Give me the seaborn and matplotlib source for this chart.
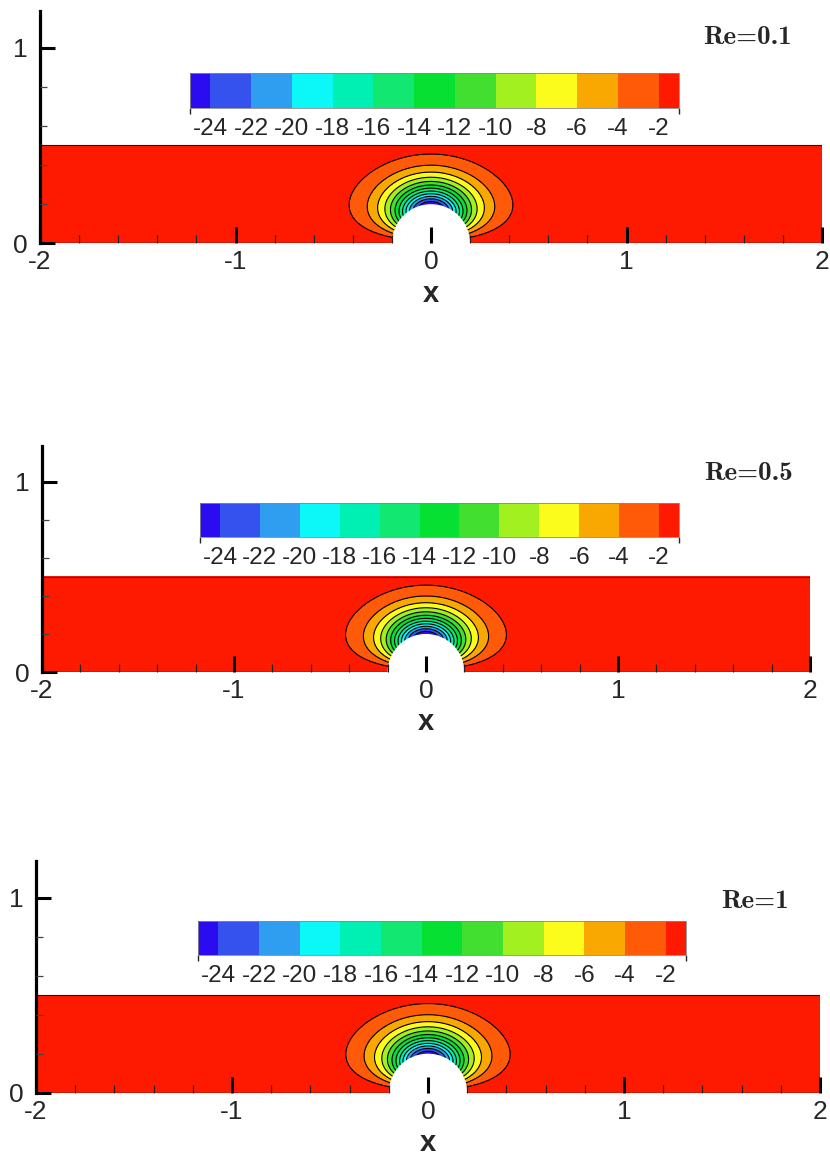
import numpy as np
import matplotlib
matplotlib.use("Agg")
import matplotlib.pyplot as plt
import seaborn as sns
from matplotlib.colors import ListedColormap, BoundaryNorm
from matplotlib.ticker import FixedLocator
import matplotlib.colorbar as mcolorbar
from matplotlib.patches import Circle

sns.set_theme(style="white")
plt.rcParams['font.family'] = ['Liberation Sans', 'DejaVu Sans']
plt.rcParams['axes.unicode_minus'] = False

# ---------------- data ----------------
re_labels = ["Re=0.1", "Re=0.5", "Re=1"]
level_ticks = [-24, -22, -20, -18, -16, -14, -12, -10, -8, -6, -4, -2]
level_bounds = [-25] + level_ticks + [-1]
level_colors = ["#2b0cf0", "#3552ee", "#2f9ef0", "#0cf8f8", "#00f0b4",
                "#12e772", "#05e032", "#42df30", "#a2f020", "#fcfc1c",
                "#f8a800", "#ff5a08", "#fe1a00"]
peak_value = [25.5, 25.5, 25.4]      # |min| at top of the cylinder
decay_len = [0.1225, 0.1225, 0.123]  # radial decay length above the cylinder
decay_pow = [1.266, 1.266, 1.266]    # radial decay exponent
side_stretch = [2.1, 2.1, 2.1]       # lateral stretch of contours
ang_power = [1.35, 1.35, 1.35]       # pinching of contours toward the base
R_CYL = 0.2
X_MIN, X_MAX = -2.0, 2.0
H_CHANNEL = 0.5
Y_TOP = 1.19
x_major = [-2, -1, 0, 1, 2]
x_minor = [round(v, 1) for v in np.arange(-1.8, 2.0, 0.2) if abs(v - round(v)) > 1e-6]
y_major = [0, 1]
y_minor = [0.2, 0.4, 0.6, 0.8]

# ---------------- layout (pixels) ----------------
W, H = 830, 1156
panels_px = [  # x(-2), x(2), y(0), y(1)
    (40, 822, 243.3, 47.7),
    (42, 810, 672.0, 481.7),
    (36, 820, 1092.7, 897.7),
]
cbar_px = [(190, 679, 73, 108), (200, 679, 503, 537), (198, 686, 921, 955)]
title_px = [(747, 37), (748, 474), (755, 901)]

fig = plt.figure(figsize=(W / 100, H / 100), dpi=100)

cmap = ListedColormap(sns.color_palette(level_colors))
fill_levels = [-1000] + level_ticks + [1000]

xg = np.linspace(X_MIN, X_MAX, 1601)
yg = np.linspace(0, H_CHANNEL, 401)
XX, YY = np.meshgrid(xg, yg)


def field(X, Y, peak, p, k, alpha, m):
    r = np.hypot(X, Y) + 1e-9
    th = np.arctan2(Y, X)
    s = np.clip(np.sin(th), 0, None)
    w = 1.0 / np.sqrt(np.cos(th) ** 2 / alpha ** 2 + s ** 2)
    d = np.clip(r - R_CYL, 0, None) / (p * w)
    return -peak * s ** m * np.exp(-d ** k)


for i in range(3):
    x0, x1, y0, y1 = panels_px[i]
    s = y0 - y1
    ax = fig.add_axes([x0 / W, (H - y0) / H, (x1 - x0) / W, Y_TOP * s / H])
    Z = field(XX, YY, peak_value[i], decay_len[i], decay_pow[i], side_stretch[i], ang_power[i])
    ax.contourf(XX, YY, Z, levels=fill_levels, colors=level_colors, zorder=1)
    ax.contour(XX, YY, Z, levels=level_ticks, colors="black", linewidths=0.8,
               linestyles="solid", zorder=1.5)
    ax.add_patch(Circle((0, 0), R_CYL, facecolor="white", edgecolor="none", zorder=2))
    # channel outline
    ax.plot([X_MIN, X_MAX, X_MAX], [H_CHANNEL, H_CHANNEL, 0], color="#301010", lw=0.8, zorder=2.1)
    ax.plot([X_MIN, -R_CYL], [0, 0], color="#301010", lw=1.0, zorder=2.1)
    ax.plot([R_CYL, X_MAX], [0, 0], color="#301010", lw=1.0, zorder=2.1)

    ax.set_xlim(X_MIN, X_MAX)
    ax.set_ylim(0, Y_TOP)
    ax.set_axisbelow(False)
    for sp in ["top", "right", "bottom"]:
        ax.spines[sp].set_visible(False)
    ax.spines["left"].set_linewidth(2.3)
    ax.spines["left"].set_color("black")
    ax.spines["left"].set_bounds(0, Y_TOP)

    ax.xaxis.set_major_locator(FixedLocator(x_major))
    ax.xaxis.set_minor_locator(FixedLocator(x_minor))
    ax.yaxis.set_major_locator(FixedLocator(y_major))
    ax.yaxis.set_minor_locator(FixedLocator(y_minor))
    ax.set_xticklabels([str(v) for v in x_major])
    ax.set_yticklabels([str(v) for v in y_major])
    ax.tick_params(axis="x", which="major", direction="in", length=11.5, width=2.2,
                   color="black", labelsize=19, pad=5, bottom=True)
    ax.tick_params(axis="x", which="minor", direction="in", length=6, width=0.9,
                   color="#222222", bottom=True)
    ax.tick_params(axis="y", which="major", direction="in", length=11, width=2.2,
                   color="black", labelsize=19, pad=9, left=True)
    ax.tick_params(axis="y", which="minor", direction="in", length=5, width=0.9,
                   color="#444444", left=True)
    ax.set_xlabel("x", fontsize=21, fontweight="bold", labelpad=4)
    ax.grid(False)
    ax.patch.set_alpha(0)

    # colour legend
    cx0, cx1, cy0, cy1 = cbar_px[i]
    cax = fig.add_axes([cx0 / W, (H - cy1) / H, (cx1 - cx0) / W, (cy1 - cy0) / H])
    norm = BoundaryNorm(level_bounds, cmap.N)
    cb = mcolorbar.ColorbarBase(cax, cmap=cmap, norm=norm, orientation="horizontal",
                                spacing="proportional", ticks=level_ticks)
    cb.outline.set_linewidth(0.6)
    cb.outline.set_edgecolor("#888888")
    cax.set_xticklabels([str(v) for v in level_ticks])
    cax.tick_params(length=0, labelsize=17.5, pad=7)

    tx, ty = title_px[i]
    fig.text(tx / W, 1 - ty / H, re_labels[i], fontsize=19.5, ha="center", va="center",
             family=["cmb10", "DejaVu Serif"])

fig.savefig("out.png", dpi=100)
